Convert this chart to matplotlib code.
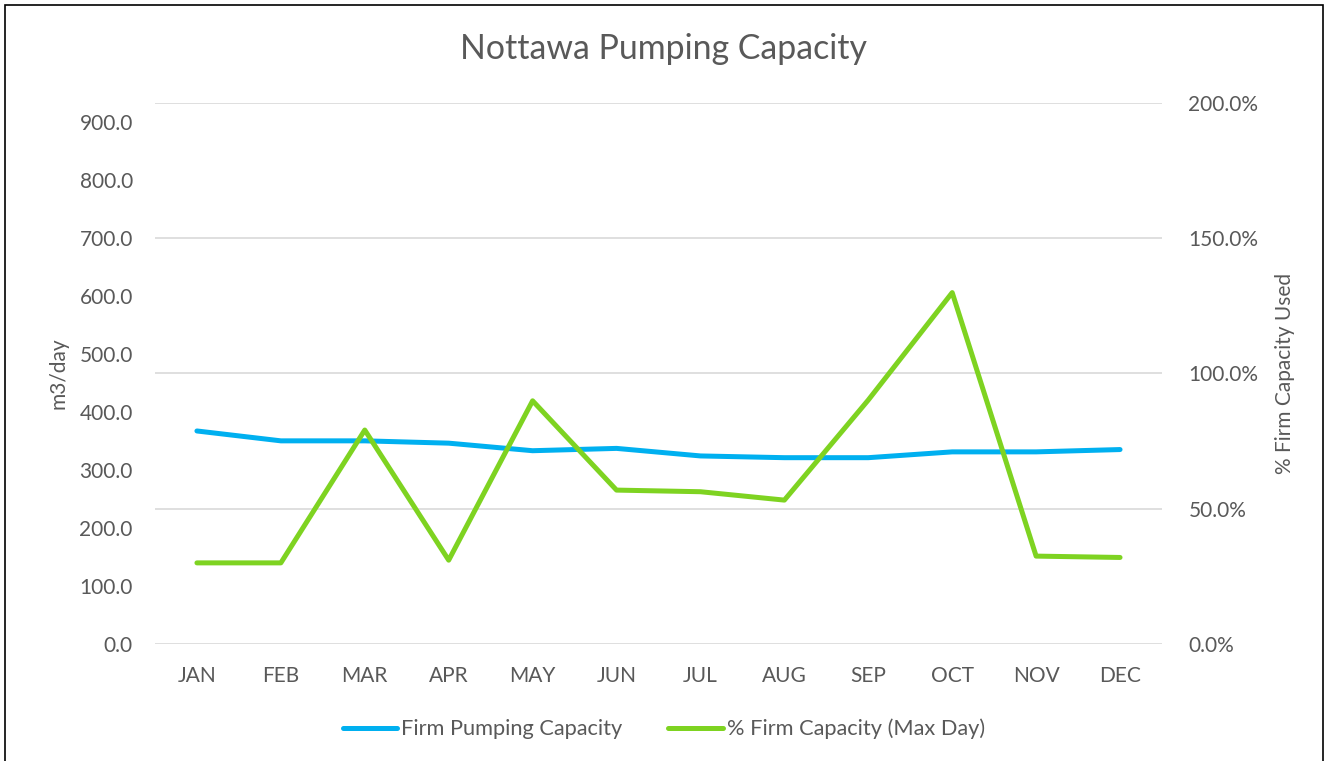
import matplotlib
matplotlib.use("Agg")
import matplotlib.pyplot as plt
from matplotlib.patches import Rectangle
from matplotlib.ticker import FuncFormatter

# monthly values
months = ['JAN', 'FEB', 'MAR', 'APR', 'MAY', 'JUN', 'JUL', 'AUG', 'SEP', 'OCT', 'NOV', 'DEC']
firm_capacity = [367, 350, 350, 346, 333, 337, 324, 321, 321, 331, 331, 335]   # m3/day
pct_max_day = [30.0, 30.0, 79.1, 31.0, 89.9, 56.9, 56.3, 53.2, 90.2, 129.9, 32.5, 32.0]  # %

text_col = '#595959'
blue = '#00B0F0'
green = '#7ED321'

plt.rcParams['font.family'] = ['Lato', 'DejaVu Sans']

fig = plt.figure(figsize=(13.28, 7.61), dpi=100)
ax = fig.add_axes([0.1167, 0.1537, 0.7583, 0.711])
ax2 = ax.twinx()

x = list(range(len(months)))
l1, = ax.plot(x, firm_capacity, color=blue, lw=3.6, solid_capstyle='round',
              solid_joinstyle='round', label='Firm Pumping Capacity', zorder=3)
l2, = ax2.plot(x, pct_max_day, color=green, lw=3.6, solid_capstyle='round',
               solid_joinstyle='round', label='% Firm Capacity (Max Day)', zorder=3)

ax.set_xlim(-0.5, 11.5)
ax.set_ylim(0, 932)
ax.set_yticks(range(0, 1000, 100))
ax.yaxis.set_major_formatter(FuncFormatter(lambda v, p: f'{v:.1f}'))
ax2.set_ylim(0, 200)
ax2.set_yticks([0, 50, 100, 150, 200])
ax2.yaxis.set_major_formatter(FuncFormatter(lambda v, p: f'{v:.1f}%'))

# gridlines follow the secondary axis
for v in [0, 50, 100, 150, 200]:
    ax2.axhline(v, color='#D9D9D9', lw=1.2, zorder=0)

ax.set_xticks(x)
ax.set_xticklabels(months)
for a in (ax, ax2):
    for s in a.spines.values():
        s.set_visible(False)
    a.tick_params(length=0, labelsize=15, colors=text_col)
ax.tick_params(axis='y', pad=16)
ax2.tick_params(axis='y', pad=19)
ax.tick_params(axis='x', pad=16)

ax.set_ylabel('m3/day', fontsize=15, color=text_col, labelpad=8)
ax2.set_ylabel('% Firm Capacity Used', fontsize=15, color=text_col, labelpad=12)

fig.text(0.5, 0.935, 'Nottawa Pumping Capacity', ha='center', va='center',
         fontsize=24.4, color=text_col)

fig.legend(handles=[l1, l2], loc='center', bbox_to_anchor=(0.5, 0.042), ncol=2,
           frameon=False, fontsize=15.7, handlelength=2.5, handletextpad=0.2,
           columnspacing=2.1, labelcolor=text_col)

fig.patches.append(Rectangle((0.004, -0.01), 0.992, 1.003, transform=fig.transFigure,
                             fill=False, edgecolor='black', lw=1.2))

fig.savefig('out.png', dpi=100)
